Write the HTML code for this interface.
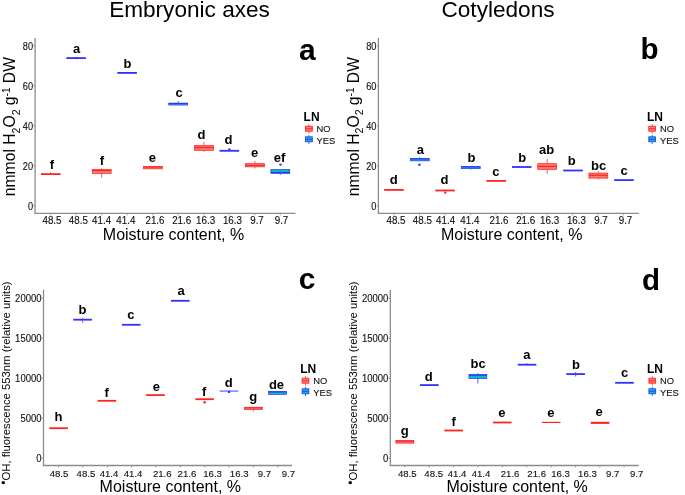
<!DOCTYPE html>
<html><head><meta charset="utf-8"><title>Embryonic axes / Cotyledons</title>
<style>
html,body{margin:0;padding:0;background:#fff;}
body{width:685px;height:495px;overflow:hidden;}
svg{display:block;will-change:transform;font-family:"Liberation Sans", sans-serif;}
.t{stroke:#111;stroke-width:0.12px;}
</style></head><body>
<svg width="685" height="495" viewBox="0 0 685 495">

<text x="189.50" y="16.90" font-size="22.6" text-anchor="middle" >Embryonic axes</text>
<line x1="35.10" y1="38.00" x2="35.10" y2="213.90" stroke="#8c8c8c" stroke-width="1.3" />
<line x1="34.50" y1="213.30" x2="295.50" y2="213.30" stroke="#8c8c8c" stroke-width="1.3" />
<line x1="33.10" y1="205.90" x2="35.10" y2="205.90" stroke="#8c8c8c" stroke-width="0.8" />
<text transform="translate(33.10,210.10) scale(0.94,1.2)" font-size="9.8" text-anchor="end" fill="#111"  class="t">0</text>
<line x1="33.10" y1="165.90" x2="35.10" y2="165.90" stroke="#8c8c8c" stroke-width="0.8" />
<text transform="translate(33.10,170.10) scale(0.94,1.2)" font-size="9.8" text-anchor="end" fill="#111"  class="t">20</text>
<line x1="33.10" y1="125.90" x2="35.10" y2="125.90" stroke="#8c8c8c" stroke-width="0.8" />
<text transform="translate(33.10,130.10) scale(0.94,1.2)" font-size="9.8" text-anchor="end" fill="#111"  class="t">40</text>
<line x1="33.10" y1="85.90" x2="35.10" y2="85.90" stroke="#8c8c8c" stroke-width="0.8" />
<text transform="translate(33.10,90.10) scale(0.94,1.2)" font-size="9.8" text-anchor="end" fill="#111"  class="t">60</text>
<line x1="33.10" y1="45.90" x2="35.10" y2="45.90" stroke="#8c8c8c" stroke-width="0.8" />
<text transform="translate(33.10,50.10) scale(0.94,1.2)" font-size="9.8" text-anchor="end" fill="#111"  class="t">80</text>
<line x1="50.70" y1="213.30" x2="50.70" y2="215.30" stroke="#8c8c8c" stroke-width="0.8" />
<line x1="76.21" y1="213.30" x2="76.21" y2="215.30" stroke="#8c8c8c" stroke-width="0.8" />
<line x1="101.72" y1="213.30" x2="101.72" y2="215.30" stroke="#8c8c8c" stroke-width="0.8" />
<line x1="127.23" y1="213.30" x2="127.23" y2="215.30" stroke="#8c8c8c" stroke-width="0.8" />
<line x1="152.74" y1="213.30" x2="152.74" y2="215.30" stroke="#8c8c8c" stroke-width="0.8" />
<line x1="178.25" y1="213.30" x2="178.25" y2="215.30" stroke="#8c8c8c" stroke-width="0.8" />
<line x1="203.76" y1="213.30" x2="203.76" y2="215.30" stroke="#8c8c8c" stroke-width="0.8" />
<line x1="229.27" y1="213.30" x2="229.27" y2="215.30" stroke="#8c8c8c" stroke-width="0.8" />
<line x1="254.78" y1="213.30" x2="254.78" y2="215.30" stroke="#8c8c8c" stroke-width="0.8" />
<line x1="280.29" y1="213.30" x2="280.29" y2="215.30" stroke="#8c8c8c" stroke-width="0.8" />
<text transform="translate(52.00,224.20) scale(1.0,1.2)" font-size="9.8" text-anchor="middle" fill="#111"  class="t">48.5</text>
<text transform="translate(78.30,224.20) scale(1.0,1.2)" font-size="9.8" text-anchor="middle" fill="#111"  class="t">48.5</text>
<text transform="translate(101.60,224.20) scale(1.0,1.2)" font-size="9.8" text-anchor="middle" fill="#111"  class="t">41.4</text>
<text transform="translate(125.80,224.20) scale(1.0,1.2)" font-size="9.8" text-anchor="middle" fill="#111"  class="t">41.4</text>
<text transform="translate(155.00,224.20) scale(1.0,1.2)" font-size="9.8" text-anchor="middle" fill="#111"  class="t">21.6</text>
<text transform="translate(181.70,224.20) scale(1.0,1.2)" font-size="9.8" text-anchor="middle" fill="#111"  class="t">21.6</text>
<text transform="translate(205.60,224.20) scale(1.0,1.2)" font-size="9.8" text-anchor="middle" fill="#111"  class="t">16.3</text>
<text transform="translate(232.40,224.20) scale(1.0,1.2)" font-size="9.8" text-anchor="middle" fill="#111"  class="t">16.3</text>
<text transform="translate(257.00,224.20) scale(1.0,1.2)" font-size="9.8" text-anchor="middle" fill="#111"  class="t">9.7</text>
<text transform="translate(281.50,224.20) scale(1.0,1.2)" font-size="9.8" text-anchor="middle" fill="#111"  class="t">9.7</text>
<text x="173.50" y="240.20" font-size="16" text-anchor="middle" >Moisture content, %</text>
<text transform="translate(15.30,126.6) rotate(-90)" font-size="15.7" text-anchor="middle">nmmol H<tspan font-size="10.5" dy="4.3">2</tspan><tspan dy="-4.3">O</tspan><tspan font-size="10.5" dy="4.3">2</tspan><tspan dy="-4.3"> g</tspan><tspan font-size="10" dy="-5.0">-1</tspan><tspan dy="5.0"> DW</tspan></text>
<text x="307.30" y="59.60" font-size="30" text-anchor="middle" font-weight="bold" >a</text>
<text x="303.60" y="120.70" font-size="12" text-anchor="start" font-weight="bold" >LN</text>
<line x1="308.90" y1="124.30" x2="308.90" y2="133.40" stroke="#ff2222" stroke-width="0.8" />
<rect x="305.50" y="126.20" width="6.8" height="5.0" fill="#f8766d" stroke="#ff2222" stroke-width="0.8"/>
<line x1="305.50" y1="128.70" x2="312.30" y2="128.70" stroke="#ff2222" stroke-width="0.8" />
<text x="316.60" y="132.00" font-size="9.4" text-anchor="start" fill="#111"  class="t">NO</text>
<line x1="308.90" y1="134.90" x2="308.90" y2="144.00" stroke="#3030ff" stroke-width="0.8" />
<rect x="305.50" y="136.80" width="6.8" height="5.0" fill="#00bfc4" stroke="#3030ff" stroke-width="0.8"/>
<line x1="305.50" y1="139.30" x2="312.30" y2="139.30" stroke="#3030ff" stroke-width="0.8" />
<text x="316.60" y="143.90" font-size="9.4" text-anchor="start" fill="#111"  class="t">YES</text>
<line x1="50.70" y1="172.20" x2="50.70" y2="173.20" stroke="#ff2222" stroke-width="0.8" />
<rect x="40.90" y="173.20" width="19.60" height="1.80" fill="#ff2222"/>
<rect x="66.30" y="57.20" width="19.60" height="1.80" fill="#3030ff"/>
<circle cx="76.5" cy="58.1" r="1.2" fill="#3030ff"/>
<line x1="101.70" y1="168.40" x2="101.70" y2="169.10" stroke="#ff2222" stroke-width="0.8" />
<line x1="101.70" y1="173.80" x2="101.70" y2="177.70" stroke="#ff2222" stroke-width="0.8" />
<rect x="92.25" y="169.45" width="18.90" height="4.00" fill="#f8766d" stroke="#ff2222" stroke-width="0.7"/>
<line x1="92.25" y1="170.50" x2="111.15" y2="170.50" stroke="#ff2222" stroke-width="1.1" />
<rect x="117.30" y="72.00" width="19.60" height="1.80" fill="#3030ff"/>
<rect x="143.45" y="166.55" width="18.90" height="2.30" fill="#f8766d" stroke="#ff2222" stroke-width="0.7"/>
<line x1="143.45" y1="167.00" x2="162.35" y2="167.00" stroke="#ff2222" stroke-width="1.1" />
<line x1="178.20" y1="100.90" x2="178.20" y2="102.80" stroke="#3030ff" stroke-width="0.8" />
<rect x="168.75" y="103.15" width="18.90" height="1.90" fill="#00bfc4" stroke="#3030ff" stroke-width="0.7"/>
<line x1="168.75" y1="103.50" x2="187.65" y2="103.50" stroke="#3030ff" stroke-width="1.1" />
<line x1="203.95" y1="141.90" x2="203.95" y2="145.00" stroke="#ff2222" stroke-width="0.8" />
<line x1="203.95" y1="150.70" x2="203.95" y2="151.90" stroke="#ff2222" stroke-width="0.8" />
<rect x="194.50" y="145.35" width="18.90" height="5.00" fill="#f8766d" stroke="#ff2222" stroke-width="0.7"/>
<line x1="194.50" y1="147.50" x2="213.40" y2="147.50" stroke="#ff2222" stroke-width="1.1" />
<rect x="219.55" y="149.90" width="19.60" height="1.80" fill="#3030ff"/>
<circle cx="229.35" cy="149.4" r="1.2" fill="#3030ff"/>
<line x1="254.90" y1="160.90" x2="254.90" y2="163.30" stroke="#ff2222" stroke-width="0.8" />
<line x1="254.90" y1="167.20" x2="254.90" y2="168.40" stroke="#ff2222" stroke-width="0.8" />
<rect x="245.45" y="163.65" width="18.90" height="3.20" fill="#f8766d" stroke="#ff2222" stroke-width="0.7"/>
<line x1="245.45" y1="165.40" x2="264.35" y2="165.40" stroke="#ff2222" stroke-width="1.1" />
<line x1="280.30" y1="173.70" x2="280.30" y2="175.00" stroke="#3030ff" stroke-width="0.8" />
<rect x="270.85" y="169.55" width="18.90" height="3.80" fill="#00bfc4" stroke="#3030ff" stroke-width="0.7"/>
<line x1="270.85" y1="172.40" x2="289.75" y2="172.40" stroke="#3030ff" stroke-width="1.1" />
<circle cx="280.5" cy="164.6" r="1.2" fill="#3030ff"/>
<text x="51.80" y="168.70" font-size="13" text-anchor="middle" font-weight="bold" >f</text>
<text x="76.60" y="53.00" font-size="13" text-anchor="middle" font-weight="bold" >a</text>
<text x="101.80" y="165.00" font-size="13" text-anchor="middle" font-weight="bold" >f</text>
<text x="127.50" y="68.20" font-size="13" text-anchor="middle" font-weight="bold" >b</text>
<text x="152.30" y="162.30" font-size="13" text-anchor="middle" font-weight="bold" >e</text>
<text x="179.00" y="96.80" font-size="13" text-anchor="middle" font-weight="bold" >c</text>
<text x="201.50" y="138.80" font-size="13" text-anchor="middle" font-weight="bold" >d</text>
<text x="228.50" y="144.00" font-size="13" text-anchor="middle" font-weight="bold" >d</text>
<text x="254.50" y="157.10" font-size="13" text-anchor="middle" font-weight="bold" >e</text>
<text x="279.50" y="161.80" font-size="13" text-anchor="middle" font-weight="bold" >ef</text>
<text x="498.00" y="16.90" font-size="22.6" text-anchor="middle" >Cotyledons</text>
<line x1="378.40" y1="38.00" x2="378.40" y2="213.90" stroke="#8c8c8c" stroke-width="1.3" />
<line x1="377.80" y1="213.30" x2="638.80" y2="213.30" stroke="#8c8c8c" stroke-width="1.3" />
<line x1="376.40" y1="205.90" x2="378.40" y2="205.90" stroke="#8c8c8c" stroke-width="0.8" />
<text transform="translate(376.40,210.10) scale(0.94,1.2)" font-size="9.8" text-anchor="end" fill="#111"  class="t">0</text>
<line x1="376.40" y1="165.90" x2="378.40" y2="165.90" stroke="#8c8c8c" stroke-width="0.8" />
<text transform="translate(376.40,170.10) scale(0.94,1.2)" font-size="9.8" text-anchor="end" fill="#111"  class="t">20</text>
<line x1="376.40" y1="125.90" x2="378.40" y2="125.90" stroke="#8c8c8c" stroke-width="0.8" />
<text transform="translate(376.40,130.10) scale(0.94,1.2)" font-size="9.8" text-anchor="end" fill="#111"  class="t">40</text>
<line x1="376.40" y1="85.90" x2="378.40" y2="85.90" stroke="#8c8c8c" stroke-width="0.8" />
<text transform="translate(376.40,90.10) scale(0.94,1.2)" font-size="9.8" text-anchor="end" fill="#111"  class="t">60</text>
<line x1="376.40" y1="45.90" x2="378.40" y2="45.90" stroke="#8c8c8c" stroke-width="0.8" />
<text transform="translate(376.40,50.10) scale(0.94,1.2)" font-size="9.8" text-anchor="end" fill="#111"  class="t">80</text>
<line x1="394.00" y1="213.30" x2="394.00" y2="215.30" stroke="#8c8c8c" stroke-width="0.8" />
<line x1="419.51" y1="213.30" x2="419.51" y2="215.30" stroke="#8c8c8c" stroke-width="0.8" />
<line x1="445.02" y1="213.30" x2="445.02" y2="215.30" stroke="#8c8c8c" stroke-width="0.8" />
<line x1="470.53" y1="213.30" x2="470.53" y2="215.30" stroke="#8c8c8c" stroke-width="0.8" />
<line x1="496.04" y1="213.30" x2="496.04" y2="215.30" stroke="#8c8c8c" stroke-width="0.8" />
<line x1="521.55" y1="213.30" x2="521.55" y2="215.30" stroke="#8c8c8c" stroke-width="0.8" />
<line x1="547.06" y1="213.30" x2="547.06" y2="215.30" stroke="#8c8c8c" stroke-width="0.8" />
<line x1="572.57" y1="213.30" x2="572.57" y2="215.30" stroke="#8c8c8c" stroke-width="0.8" />
<line x1="598.08" y1="213.30" x2="598.08" y2="215.30" stroke="#8c8c8c" stroke-width="0.8" />
<line x1="623.59" y1="213.30" x2="623.59" y2="215.30" stroke="#8c8c8c" stroke-width="0.8" />
<text transform="translate(396.00,224.20) scale(1.0,1.2)" font-size="9.8" text-anchor="middle" fill="#111"  class="t">48.5</text>
<text transform="translate(422.30,224.20) scale(1.0,1.2)" font-size="9.8" text-anchor="middle" fill="#111"  class="t">48.5</text>
<text transform="translate(445.60,224.20) scale(1.0,1.2)" font-size="9.8" text-anchor="middle" fill="#111"  class="t">41.4</text>
<text transform="translate(469.80,224.20) scale(1.0,1.2)" font-size="9.8" text-anchor="middle" fill="#111"  class="t">41.4</text>
<text transform="translate(499.00,224.20) scale(1.0,1.2)" font-size="9.8" text-anchor="middle" fill="#111"  class="t">21.6</text>
<text transform="translate(525.70,224.20) scale(1.0,1.2)" font-size="9.8" text-anchor="middle" fill="#111"  class="t">21.6</text>
<text transform="translate(549.60,224.20) scale(1.0,1.2)" font-size="9.8" text-anchor="middle" fill="#111"  class="t">16.3</text>
<text transform="translate(576.40,224.20) scale(1.0,1.2)" font-size="9.8" text-anchor="middle" fill="#111"  class="t">16.3</text>
<text transform="translate(601.00,224.20) scale(1.0,1.2)" font-size="9.8" text-anchor="middle" fill="#111"  class="t">9.7</text>
<text transform="translate(625.50,224.20) scale(1.0,1.2)" font-size="9.8" text-anchor="middle" fill="#111"  class="t">9.7</text>
<text x="511.70" y="240.20" font-size="16" text-anchor="middle" >Moisture content, %</text>
<text transform="translate(358.60,126.6) rotate(-90)" font-size="15.7" text-anchor="middle">nmmol H<tspan font-size="10.5" dy="4.3">2</tspan><tspan dy="-4.3">O</tspan><tspan font-size="10.5" dy="4.3">2</tspan><tspan dy="-4.3"> g</tspan><tspan font-size="10" dy="-5.0">-1</tspan><tspan dy="5.0"> DW</tspan></text>
<text x="649.60" y="59.30" font-size="29.5" text-anchor="middle" font-weight="bold" >b</text>
<text x="646.90" y="120.70" font-size="12" text-anchor="start" font-weight="bold" >LN</text>
<line x1="652.20" y1="124.30" x2="652.20" y2="133.40" stroke="#ff2222" stroke-width="0.8" />
<rect x="648.80" y="126.20" width="6.8" height="5.0" fill="#f8766d" stroke="#ff2222" stroke-width="0.8"/>
<line x1="648.80" y1="128.70" x2="655.60" y2="128.70" stroke="#ff2222" stroke-width="0.8" />
<text x="659.90" y="132.00" font-size="9.4" text-anchor="start" fill="#111"  class="t">NO</text>
<line x1="652.20" y1="134.90" x2="652.20" y2="144.00" stroke="#3030ff" stroke-width="0.8" />
<rect x="648.80" y="136.80" width="6.8" height="5.0" fill="#00bfc4" stroke="#3030ff" stroke-width="0.8"/>
<line x1="648.80" y1="139.30" x2="655.60" y2="139.30" stroke="#3030ff" stroke-width="0.8" />
<text x="659.90" y="143.90" font-size="9.4" text-anchor="start" fill="#111"  class="t">YES</text>
<rect x="384.15" y="189.00" width="19.60" height="1.80" fill="#ff2222"/>
<line x1="419.75" y1="157.20" x2="419.75" y2="158.10" stroke="#3030ff" stroke-width="0.8" />
<rect x="410.30" y="158.45" width="18.90" height="2.40" fill="#00bfc4" stroke="#3030ff" stroke-width="0.7"/>
<line x1="410.30" y1="158.90" x2="429.20" y2="158.90" stroke="#3030ff" stroke-width="1.1" />
<circle cx="419.4" cy="164.8" r="1.2" fill="#3030ff"/>
<rect x="435.25" y="189.60" width="19.60" height="1.80" fill="#ff2222"/>
<circle cx="445.3" cy="192.6" r="1.2" fill="#ff2222"/>
<line x1="470.75" y1="169.00" x2="470.75" y2="169.60" stroke="#3030ff" stroke-width="0.8" />
<rect x="461.30" y="166.45" width="18.90" height="2.20" fill="#00bfc4" stroke="#3030ff" stroke-width="0.7"/>
<line x1="461.30" y1="166.90" x2="480.20" y2="166.90" stroke="#3030ff" stroke-width="1.1" />
<rect x="486.40" y="180.00" width="19.60" height="1.80" fill="#ff2222"/>
<rect x="511.95" y="166.10" width="19.60" height="1.80" fill="#3030ff"/>
<line x1="547.15" y1="158.90" x2="547.15" y2="163.30" stroke="#ff2222" stroke-width="0.8" />
<line x1="547.15" y1="169.80" x2="547.15" y2="173.80" stroke="#ff2222" stroke-width="0.8" />
<rect x="537.70" y="163.65" width="18.90" height="5.80" fill="#f8766d" stroke="#ff2222" stroke-width="0.7"/>
<line x1="537.70" y1="166.40" x2="556.60" y2="166.40" stroke="#ff2222" stroke-width="1.1" />
<rect x="563.20" y="169.60" width="19.60" height="1.80" fill="#3030ff"/>
<line x1="598.35" y1="171.30" x2="598.35" y2="172.70" stroke="#ff2222" stroke-width="0.8" />
<line x1="598.35" y1="178.50" x2="598.35" y2="179.70" stroke="#ff2222" stroke-width="0.8" />
<rect x="588.90" y="173.05" width="18.90" height="5.10" fill="#f8766d" stroke="#ff2222" stroke-width="0.7"/>
<line x1="588.90" y1="175.30" x2="607.80" y2="175.30" stroke="#ff2222" stroke-width="1.1" />
<rect x="614.15" y="179.20" width="19.60" height="1.80" fill="#3030ff"/>
<text x="393.70" y="184.20" font-size="13" text-anchor="middle" font-weight="bold" >d</text>
<text x="420.30" y="153.90" font-size="13" text-anchor="middle" font-weight="bold" >a</text>
<text x="444.60" y="184.20" font-size="13" text-anchor="middle" font-weight="bold" >d</text>
<text x="471.40" y="161.90" font-size="13" text-anchor="middle" font-weight="bold" >b</text>
<text x="495.80" y="175.80" font-size="13" text-anchor="middle" font-weight="bold" >c</text>
<text x="522.30" y="161.90" font-size="13" text-anchor="middle" font-weight="bold" >b</text>
<text x="546.50" y="153.90" font-size="13" text-anchor="middle" font-weight="bold" >ab</text>
<text x="571.70" y="165.00" font-size="13" text-anchor="middle" font-weight="bold" >b</text>
<text x="598.70" y="169.60" font-size="13" text-anchor="middle" font-weight="bold" >bc</text>
<text x="624.20" y="174.80" font-size="13" text-anchor="middle" font-weight="bold" >c</text>
<line x1="43.50" y1="289.70" x2="43.50" y2="466.10" stroke="#8c8c8c" stroke-width="1.3" />
<line x1="42.90" y1="465.50" x2="292.00" y2="465.50" stroke="#8c8c8c" stroke-width="1.3" />
<line x1="41.50" y1="458.20" x2="43.50" y2="458.20" stroke="#8c8c8c" stroke-width="0.8" />
<text transform="translate(41.50,461.98) scale(1.0,1.08)" font-size="9.5" text-anchor="end" fill="#111"  class="t">0</text>
<line x1="41.50" y1="418.20" x2="43.50" y2="418.20" stroke="#8c8c8c" stroke-width="0.8" />
<text transform="translate(41.50,421.98) scale(1.0,1.08)" font-size="9.5" text-anchor="end" fill="#111"  class="t">5000</text>
<line x1="41.50" y1="378.20" x2="43.50" y2="378.20" stroke="#8c8c8c" stroke-width="0.8" />
<text transform="translate(41.50,381.98) scale(1.0,1.08)" font-size="9.5" text-anchor="end" fill="#111"  class="t">10000</text>
<line x1="41.50" y1="338.20" x2="43.50" y2="338.20" stroke="#8c8c8c" stroke-width="0.8" />
<text transform="translate(41.50,341.98) scale(1.0,1.08)" font-size="9.5" text-anchor="end" fill="#111"  class="t">15000</text>
<line x1="41.50" y1="298.20" x2="43.50" y2="298.20" stroke="#8c8c8c" stroke-width="0.8" />
<text transform="translate(41.50,301.98) scale(1.0,1.08)" font-size="9.5" text-anchor="end" fill="#111"  class="t">20000</text>
<line x1="58.50" y1="465.50" x2="58.50" y2="467.50" stroke="#8c8c8c" stroke-width="0.8" />
<line x1="82.87" y1="465.50" x2="82.87" y2="467.50" stroke="#8c8c8c" stroke-width="0.8" />
<line x1="107.24" y1="465.50" x2="107.24" y2="467.50" stroke="#8c8c8c" stroke-width="0.8" />
<line x1="131.61" y1="465.50" x2="131.61" y2="467.50" stroke="#8c8c8c" stroke-width="0.8" />
<line x1="155.98" y1="465.50" x2="155.98" y2="467.50" stroke="#8c8c8c" stroke-width="0.8" />
<line x1="180.35" y1="465.50" x2="180.35" y2="467.50" stroke="#8c8c8c" stroke-width="0.8" />
<line x1="204.72" y1="465.50" x2="204.72" y2="467.50" stroke="#8c8c8c" stroke-width="0.8" />
<line x1="229.09" y1="465.50" x2="229.09" y2="467.50" stroke="#8c8c8c" stroke-width="0.8" />
<line x1="253.46" y1="465.50" x2="253.46" y2="467.50" stroke="#8c8c8c" stroke-width="0.8" />
<line x1="277.83" y1="465.50" x2="277.83" y2="467.50" stroke="#8c8c8c" stroke-width="0.8" />
<text x="59.00" y="476.50" font-size="9.6" text-anchor="middle" fill="#111"  class="t">48.5</text>
<text x="85.90" y="476.50" font-size="9.6" text-anchor="middle" fill="#111"  class="t">48.5</text>
<text x="109.00" y="476.50" font-size="9.6" text-anchor="middle" fill="#111"  class="t">41.4</text>
<text x="133.10" y="476.50" font-size="9.6" text-anchor="middle" fill="#111"  class="t">41.4</text>
<text x="162.30" y="476.50" font-size="9.6" text-anchor="middle" fill="#111"  class="t">21.6</text>
<text x="186.90" y="476.50" font-size="9.6" text-anchor="middle" fill="#111"  class="t">21.6</text>
<text x="212.60" y="476.50" font-size="9.6" text-anchor="middle" fill="#111"  class="t">16.3</text>
<text x="239.20" y="476.50" font-size="9.6" text-anchor="middle" fill="#111"  class="t">16.3</text>
<text x="264.40" y="476.50" font-size="9.6" text-anchor="middle" fill="#111"  class="t">9.7</text>
<text x="288.30" y="476.50" font-size="9.6" text-anchor="middle" fill="#111"  class="t">9.7</text>
<text x="170.30" y="492.00" font-size="16" text-anchor="middle" >Moisture content, %</text>
<text transform="translate(9.90,383) rotate(-90)" font-size="11.3" text-anchor="middle"><tspan dy="-2.2" font-size="12">•</tspan><tspan dy="2.2">OH, fluorescence 553nm (relative units)</tspan></text>
<text x="307.00" y="288.70" font-size="30" text-anchor="middle" font-weight="bold" >c</text>
<text x="300.20" y="372.70" font-size="12" text-anchor="start" font-weight="bold" >LN</text>
<line x1="305.50" y1="376.30" x2="305.50" y2="385.40" stroke="#ff2222" stroke-width="0.8" />
<rect x="302.10" y="378.20" width="6.8" height="5.0" fill="#f8766d" stroke="#ff2222" stroke-width="0.8"/>
<line x1="302.10" y1="380.70" x2="308.90" y2="380.70" stroke="#ff2222" stroke-width="0.8" />
<text x="313.20" y="384.00" font-size="9.4" text-anchor="start" fill="#111"  class="t">NO</text>
<line x1="305.50" y1="386.90" x2="305.50" y2="396.00" stroke="#3030ff" stroke-width="0.8" />
<rect x="302.10" y="388.80" width="6.8" height="5.0" fill="#00bfc4" stroke="#3030ff" stroke-width="0.8"/>
<line x1="302.10" y1="391.30" x2="308.90" y2="391.30" stroke="#3030ff" stroke-width="0.8" />
<text x="313.20" y="395.90" font-size="9.4" text-anchor="start" fill="#111"  class="t">YES</text>
<rect x="49.30" y="427.30" width="18.60" height="1.80" fill="#ff2222"/>
<line x1="82.60" y1="317.80" x2="82.60" y2="318.80" stroke="#3030ff" stroke-width="0.8" />
<line x1="82.60" y1="320.60" x2="82.60" y2="322.60" stroke="#3030ff" stroke-width="0.8" />
<rect x="73.30" y="318.80" width="18.60" height="1.80" fill="#3030ff"/>
<rect x="97.60" y="399.90" width="18.60" height="1.80" fill="#ff2222"/>
<rect x="121.95" y="323.90" width="18.60" height="1.80" fill="#3030ff"/>
<rect x="146.15" y="394.20" width="18.60" height="1.80" fill="#ff2222"/>
<rect x="170.95" y="299.90" width="18.60" height="1.80" fill="#3030ff"/>
<rect x="195.30" y="398.30" width="18.60" height="1.80" fill="#ff2222"/>
<circle cx="204.6" cy="402.3" r="1.2" fill="#ff2222"/>
<rect x="219.65" y="390.40" width="18.60" height="1.40" fill="#7777ff"/>
<circle cx="229.1" cy="391.9" r="1.2" fill="#3030ff"/>
<line x1="253.40" y1="409.90" x2="253.40" y2="411.50" stroke="#ff2222" stroke-width="0.8" />
<rect x="244.45" y="407.25" width="17.90" height="2.30" fill="#f8766d" stroke="#ff2222" stroke-width="0.7"/>
<line x1="244.45" y1="407.80" x2="262.35" y2="407.80" stroke="#ff2222" stroke-width="1.1" />
<rect x="268.60" y="391.55" width="17.90" height="2.80" fill="#00bfc4" stroke="#3030ff" stroke-width="0.7"/>
<line x1="268.60" y1="392.00" x2="286.50" y2="392.00" stroke="#3030ff" stroke-width="1.1" />
<text x="58.60" y="420.50" font-size="13" text-anchor="middle" font-weight="bold" >h</text>
<text x="82.60" y="313.60" font-size="13" text-anchor="middle" font-weight="bold" >b</text>
<text x="106.70" y="397.20" font-size="13" text-anchor="middle" font-weight="bold" >f</text>
<text x="130.80" y="319.00" font-size="13" text-anchor="middle" font-weight="bold" >c</text>
<text x="156.30" y="390.80" font-size="13" text-anchor="middle" font-weight="bold" >e</text>
<text x="181.00" y="295.20" font-size="13" text-anchor="middle" font-weight="bold" >a</text>
<text x="204.20" y="395.70" font-size="13" text-anchor="middle" font-weight="bold" >f</text>
<text x="228.80" y="387.00" font-size="13" text-anchor="middle" font-weight="bold" >d</text>
<text x="253.30" y="401.20" font-size="13" text-anchor="middle" font-weight="bold" >g</text>
<text x="276.50" y="388.50" font-size="13" text-anchor="middle" font-weight="bold" >de</text>
<line x1="390.30" y1="289.70" x2="390.30" y2="466.10" stroke="#8c8c8c" stroke-width="1.3" />
<line x1="389.70" y1="465.50" x2="638.80" y2="465.50" stroke="#8c8c8c" stroke-width="1.3" />
<line x1="388.30" y1="458.20" x2="390.30" y2="458.20" stroke="#8c8c8c" stroke-width="0.8" />
<text transform="translate(388.30,461.98) scale(1.0,1.08)" font-size="9.5" text-anchor="end" fill="#111"  class="t">0</text>
<line x1="388.30" y1="418.20" x2="390.30" y2="418.20" stroke="#8c8c8c" stroke-width="0.8" />
<text transform="translate(388.30,421.98) scale(1.0,1.08)" font-size="9.5" text-anchor="end" fill="#111"  class="t">5000</text>
<line x1="388.30" y1="378.20" x2="390.30" y2="378.20" stroke="#8c8c8c" stroke-width="0.8" />
<text transform="translate(388.30,381.98) scale(1.0,1.08)" font-size="9.5" text-anchor="end" fill="#111"  class="t">10000</text>
<line x1="388.30" y1="338.20" x2="390.30" y2="338.20" stroke="#8c8c8c" stroke-width="0.8" />
<text transform="translate(388.30,341.98) scale(1.0,1.08)" font-size="9.5" text-anchor="end" fill="#111"  class="t">15000</text>
<line x1="388.30" y1="298.20" x2="390.30" y2="298.20" stroke="#8c8c8c" stroke-width="0.8" />
<text transform="translate(388.30,301.98) scale(1.0,1.08)" font-size="9.5" text-anchor="end" fill="#111"  class="t">20000</text>
<line x1="404.80" y1="465.50" x2="404.80" y2="467.50" stroke="#8c8c8c" stroke-width="0.8" />
<line x1="429.17" y1="465.50" x2="429.17" y2="467.50" stroke="#8c8c8c" stroke-width="0.8" />
<line x1="453.54" y1="465.50" x2="453.54" y2="467.50" stroke="#8c8c8c" stroke-width="0.8" />
<line x1="477.91" y1="465.50" x2="477.91" y2="467.50" stroke="#8c8c8c" stroke-width="0.8" />
<line x1="502.28" y1="465.50" x2="502.28" y2="467.50" stroke="#8c8c8c" stroke-width="0.8" />
<line x1="526.65" y1="465.50" x2="526.65" y2="467.50" stroke="#8c8c8c" stroke-width="0.8" />
<line x1="551.02" y1="465.50" x2="551.02" y2="467.50" stroke="#8c8c8c" stroke-width="0.8" />
<line x1="575.39" y1="465.50" x2="575.39" y2="467.50" stroke="#8c8c8c" stroke-width="0.8" />
<line x1="599.76" y1="465.50" x2="599.76" y2="467.50" stroke="#8c8c8c" stroke-width="0.8" />
<line x1="624.13" y1="465.50" x2="624.13" y2="467.50" stroke="#8c8c8c" stroke-width="0.8" />
<text x="407.30" y="476.50" font-size="9.6" text-anchor="middle" fill="#111"  class="t">48.5</text>
<text x="433.70" y="476.50" font-size="9.6" text-anchor="middle" fill="#111"  class="t">48.5</text>
<text x="457.10" y="476.50" font-size="9.6" text-anchor="middle" fill="#111"  class="t">41.4</text>
<text x="481.00" y="476.50" font-size="9.6" text-anchor="middle" fill="#111"  class="t">41.4</text>
<text x="510.10" y="476.50" font-size="9.6" text-anchor="middle" fill="#111"  class="t">21.6</text>
<text x="536.70" y="476.50" font-size="9.6" text-anchor="middle" fill="#111"  class="t">21.6</text>
<text x="560.50" y="476.50" font-size="9.6" text-anchor="middle" fill="#111"  class="t">16.3</text>
<text x="587.40" y="476.50" font-size="9.6" text-anchor="middle" fill="#111"  class="t">16.3</text>
<text x="612.60" y="476.50" font-size="9.6" text-anchor="middle" fill="#111"  class="t">9.7</text>
<text x="636.70" y="476.50" font-size="9.6" text-anchor="middle" fill="#111"  class="t">9.7</text>
<text x="517.10" y="492.00" font-size="16" text-anchor="middle" >Moisture content, %</text>
<text transform="translate(356.70,383) rotate(-90)" font-size="11.3" text-anchor="middle"><tspan dy="-2.2" font-size="12">•</tspan><tspan dy="2.2">OH, fluorescence 553nm (relative units)</tspan></text>
<text x="650.90" y="290.00" font-size="29.5" text-anchor="middle" font-weight="bold" >d</text>
<text x="647.00" y="372.70" font-size="12" text-anchor="start" font-weight="bold" >LN</text>
<line x1="652.30" y1="376.30" x2="652.30" y2="385.40" stroke="#ff2222" stroke-width="0.8" />
<rect x="648.90" y="378.20" width="6.8" height="5.0" fill="#f8766d" stroke="#ff2222" stroke-width="0.8"/>
<line x1="648.90" y1="380.70" x2="655.70" y2="380.70" stroke="#ff2222" stroke-width="0.8" />
<text x="660.00" y="384.00" font-size="9.4" text-anchor="start" fill="#111"  class="t">NO</text>
<line x1="652.30" y1="386.90" x2="652.30" y2="396.00" stroke="#3030ff" stroke-width="0.8" />
<rect x="648.90" y="388.80" width="6.8" height="5.0" fill="#00bfc4" stroke="#3030ff" stroke-width="0.8"/>
<line x1="648.90" y1="391.30" x2="655.70" y2="391.30" stroke="#3030ff" stroke-width="0.8" />
<text x="660.00" y="395.90" font-size="9.4" text-anchor="start" fill="#111"  class="t">YES</text>
<rect x="395.90" y="440.45" width="17.90" height="2.70" fill="#f8766d" stroke="#ff2222" stroke-width="0.7"/>
<line x1="395.90" y1="441.20" x2="413.80" y2="441.20" stroke="#ff2222" stroke-width="1.1" />
<rect x="420.05" y="384.20" width="18.60" height="1.80" fill="#3030ff"/>
<rect x="444.35" y="429.60" width="18.60" height="1.80" fill="#ff2222"/>
<line x1="477.90" y1="373.10" x2="477.90" y2="374.10" stroke="#3030ff" stroke-width="0.8" />
<line x1="477.90" y1="378.80" x2="477.90" y2="383.40" stroke="#3030ff" stroke-width="0.8" />
<rect x="468.95" y="374.45" width="17.90" height="4.00" fill="#00bfc4" stroke="#3030ff" stroke-width="0.7"/>
<line x1="468.95" y1="375.20" x2="486.85" y2="375.20" stroke="#3030ff" stroke-width="1.1" />
<rect x="492.90" y="421.60" width="18.60" height="1.80" fill="#ff2222"/>
<line x1="527.05" y1="363.00" x2="527.05" y2="363.80" stroke="#3030ff" stroke-width="0.8" />
<rect x="517.75" y="363.80" width="18.60" height="1.80" fill="#3030ff"/>
<rect x="541.90" y="421.80" width="18.60" height="1.20" fill="#ff2222"/>
<line x1="575.65" y1="372.00" x2="575.65" y2="373.20" stroke="#3030ff" stroke-width="0.8" />
<line x1="575.65" y1="375.00" x2="575.65" y2="376.50" stroke="#3030ff" stroke-width="0.8" />
<rect x="566.35" y="373.20" width="18.60" height="1.80" fill="#3030ff"/>
<rect x="590.75" y="421.80" width="18.60" height="2.10" fill="#ff2222"/>
<rect x="615.15" y="381.90" width="18.60" height="1.80" fill="#3030ff"/>
<text x="404.80" y="435.20" font-size="13" text-anchor="middle" font-weight="bold" >g</text>
<text x="428.70" y="381.30" font-size="13" text-anchor="middle" font-weight="bold" >d</text>
<text x="453.60" y="425.80" font-size="13" text-anchor="middle" font-weight="bold" >f</text>
<text x="478.10" y="368.10" font-size="13" text-anchor="middle" font-weight="bold" >bc</text>
<text x="501.80" y="416.90" font-size="13" text-anchor="middle" font-weight="bold" >e</text>
<text x="526.80" y="358.80" font-size="13" text-anchor="middle" font-weight="bold" >a</text>
<text x="550.90" y="416.90" font-size="13" text-anchor="middle" font-weight="bold" >e</text>
<text x="576.10" y="368.50" font-size="13" text-anchor="middle" font-weight="bold" >b</text>
<text x="599.00" y="416.10" font-size="13" text-anchor="middle" font-weight="bold" >e</text>
<text x="624.50" y="376.80" font-size="13" text-anchor="middle" font-weight="bold" >c</text>
</svg>
</body></html>
